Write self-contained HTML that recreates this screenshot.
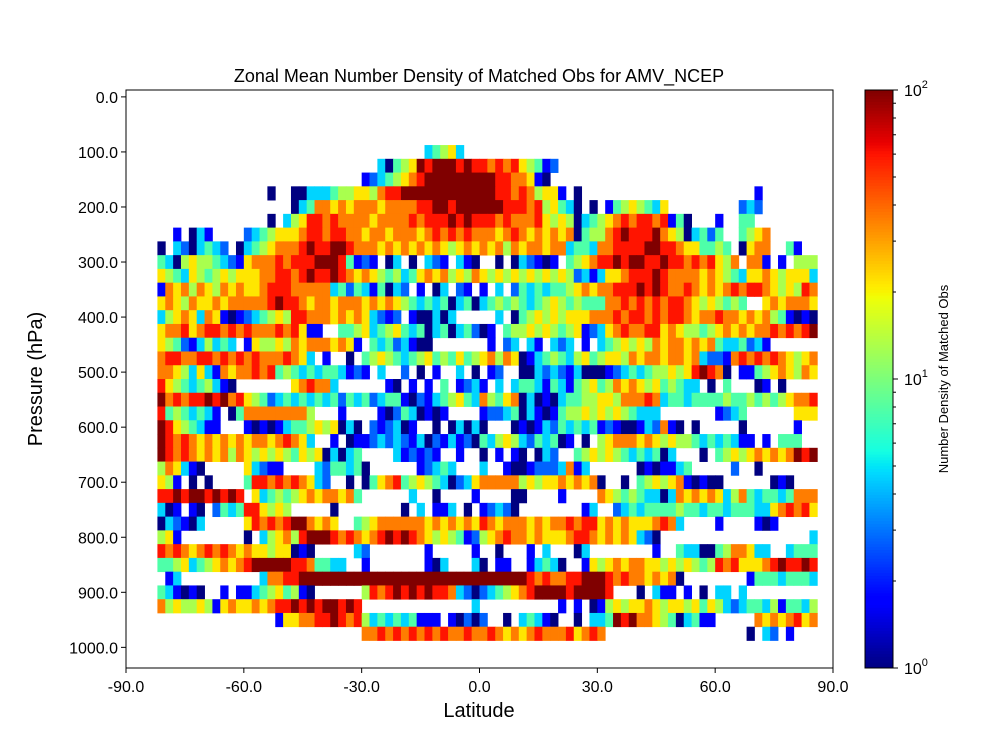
<!DOCTYPE html>
<html><head><meta charset="utf-8"><style>
html,body{margin:0;padding:0;background:#fff;}
svg{display:block;font-family:"Liberation Sans","DejaVu Sans",sans-serif;}
</style></head><body>
<svg id="chart" width="1000" height="750" viewBox="0 0 1000 750" xmlns="http://www.w3.org/2000/svg">
<rect x="0" y="0" width="1000" height="750" fill="#fff"/>
<text x="479" y="82" font-size="18" text-anchor="middle">Zonal Mean Number Density of Matched Obs for AMV_NCEP</text>
<g id="cells"></g>
<rect x="126" y="90" width="707" height="578" fill="none" stroke="#000" stroke-width="1"/>
<g id="xaxis"></g>
<g id="yaxis"></g>
<text x="479" y="717" font-size="20" text-anchor="middle">Latitude</text>
<text x="42" y="379" font-size="20" text-anchor="middle" transform="rotate(-90 42 379)">Pressure (hPa)</text>
<g id="cbar"></g>
<text x="948" y="379" font-size="13" text-anchor="middle" transform="rotate(-90 948 379)">Number Density of Matched Obs</text>
</svg>
<script>
// ---- data ----
const latBinStart = -90;      // first latitude bin edge
const latBinWidth = 2;        // degrees per bin
const pressureLevels = [100,125,150,175,200,225,250,275,300,325,350,375,400,425,450,475,500,525,550,575,600,625,650,675,700,725,750,775,800,825,850,875,900,925,950,975];
// density level codes per latitude bin (0..9 => 10^(code*2/9) obs, '.' = no data)
const densityCodes = [
"..... ..... ..... ..... ..... ..... ..... ...34 563.. ..... ..... ..... ..... ..... ..... ..... ..... .....",
"..... ..... ..... ..... ..... ..... ..304 56989 99898 87878 65412 ..... ..... ..... ..... ..... ..... .....",
"..... ..... ..... ..... ..... ..... 12345 67899 99999 99887 7610. ..... ..... ..... ..... ..... ..... .....",
"..... ..... ..... ...0. .0033 34556 65788 99999 99999 99887 87566 1.0.. ..... ..... ..... ..... 1.... .....",
"..... ..... ..... ..... .0347 76767 77677 77889 98999 99988 87856 430.0 .1456 5436. ..... ...23 2.... .....",
"..... ..... ..... ...0. 35688 78777 76777 78788 89898 88787 77865 65034 56787 88781 40... 1..44 ..... .....",
"..... .1.03 1.... 23456 66788 78877 67767 77678 78787 77678 76767 67045 57898 88976 50342 4..45 67... .....",
"....0 .3203 432.0 34567 77898 89987 77676 76767 65676 76757 67767 73443 77888 89988 76644 54.06 77..4 1....",
"....4 30565 54321 67778 78889 99841 21.03 .0.32 1.310 ..0.0 32101 .4567 88989 98898 87878 657.7 71.1. 555..",
"....6 54365 45656 66778 87898 89876 76545 34676 75657 65656 56565 65231 36678 88987 77767 65436 67656 663..",
"....1 76757 65767 66788 87777 73424 31403 2.1.0 3.21. 1.3.2 43434 45676 77888 98987 78767 67878 87656 587..",
"....6 76576 67677 77789 88767 76777 67676 54343 40340 34545 43456 54544 47787 87878 87656 5454. .6767 776..",
"....3 56763 76101 23456 58877 76767 63212 .1003 03... ..3.0 45656 56667 77878 87878 87677 87767 67541 010..",
"....6 77867 88787 87778 78611 ..445 63456 43403 40342 01.45 56565 45612 36787 78867 65545 67676 77878 789..",
"....6 54213 5343. 16556 57677 76761 .4342 3100. ..... .1.23 .31.3 23.1. 34565 65767 76767 43342 31... .....",
"....7 88778 87878 78777 8763. 1..0. 45654 34564 54645 67576 01345 43564 56657 67767 76732 21787 87876 567..",
"....7 76536 31767 78784 54343 44312 1.3.. 2.0.1 ..3.0 .12.. 00323 21300 01234 34556 56898 70.11 45676 576..",
"....8 65434 5310. ..... .6787 73... ...10 .1.1. 4.123 1.3.3 44314 31456 45767 65645 433.0 .4... 01.0. .....",
"....9 78788 98978 65423 43434 34243 42344 10213 45643 75467 03010 34455 66577 78734 43444 45445 45456 778..",
"....8 45434 31.04 77777 7775. ..1.. ..102 43010 1.... 12234 03101 45565 65654 333.. ..... 1234. ..... 666..",
"....9 86543 11... 10101 34456 56030 .2123 01..0 .0303 0...0 10132 43434 12100 13271 0.0.. ...0. ..... 1....",
"....9 87876 76767 67767 8763. .1.01 12323 21302 13120 43565 32434 01.0. 56777 67656 55434 34311 .1.44 4....",
"....9 87876 76757 65656 54656 03034 ....3 12121 ..1.. 0.1.1 0.032 ..456 56543 43403 ...0. 45656 76767 989..",
"....5 76310 ..... 63211 ....3 24434 0.... ..123 43... 3..10 01222 3713. ..... 01011 34... ..2.. 0.... .....",
"....6 51.0. 0.... 48878 78763 2..0. 04678 45654 30236 77777 56566 76767 0..0. 45656 71010 0.... ..010 .....",
"....8 89899 89898 .6345 45676 77674 ..... .3..0 ....1 ....0 0.... 1.... 76545 43303 76767 63574 34434 777..",
"....3 01.10 .2434 88656 5.... .0... ..... 0.3.1 13.0. 12320 ..... ...13 ..234 34444 54434 43444 33678 786..",
"....0 32103 ..... 68787 89976 76..4 56777 77767 67676 87677 76767 78788 67676 66787 3.... 1.... 101.. .....",
"....5 61... ..... 0.356 75899 98787 67898 98765 65412 56787 76766 67887 67676 320.. ..... ..... ..... ..3..",
"....8 78767 87876 76656 6010. ....3 2.... ...1. ....1 ..0.. .1.3. ..03. ..... ..1.. 43300 45776 33..3 444..",
"....4 45634 56767 89999 98874 433.. 1.... ...10 3...3 0.11. .1343 0..16 56767 76656 56545 87866 67898 898..",
"..... 13... ..... ..377 88999 99999 99999 99999 99999 99999 98787 78899 98787 76767 0.... ....1 44434 443..",
"....4 31010 ..1.1 13456 4510. ..... 58789 89898 87320 23456 78999 98999 98... 0.311 .1.0. 33.3. ..... .....",
"....7 56556 51676 67678 89898 99898 ..... ..... ....3 ..... ..... 1.1.0 15656 67656 65646 53234 43514 435..",
"..... ..... ..... ....1 66778 89878 53434 34111 .1020 2..0. 34310 ..0.3 34989 77654 03411 ..... 76767 867..",
"..... ..... ..... ..... ..... ..... 77878 78787 87787 78767 67877 78678 7.... ..... ..... ....0 .32.1 ....."
];
const xTickValues = [-90,-60,-30,0,30,60,90];
const yTickValues = [0,100,200,300,400,500,600,700,800,900,1000];
const cbarMajorTicks = [1,10,100];
const cbarMajorLabels = ["0","1","2"];

// ---- scales ----
const PX0=126, PX1=833, PY0=90, PY1=668;
const LAT_MIN=-90, LAT_MAX=90, P_MIN=-12.5, P_MAX=1037.5;
function xScale(lat){return PX0+(lat-LAT_MIN)/(LAT_MAX-LAT_MIN)*(PX1-PX0);}
function yScale(p){return PY0+(p-P_MIN)/(P_MAX-P_MIN)*(PY1-PY0);}
const CB_X=865, CB_W=28, CB_Y0=90, CB_Y1=668;
function cbScale(v){return CB_Y1-(Math.log10(v)-0)/2*(CB_Y1-CB_Y0);}
function interp(pts,f){for(let i=1;i<pts.length;i++){if(f<=pts[i][0]){const a=pts[i-1],b=pts[i];return a[1]+(b[1]-a[1])*(f-a[0])/(b[0]-a[0]);}}return pts[pts.length-1][1];}
const JR=[[0,0],[0.35,0],[0.66,1],[0.89,1],[1,0.5]];
const JG=[[0,0],[0.125,0],[0.375,1],[0.64,1],[0.91,0],[1,0]];
const JB=[[0,0.5],[0.11,1],[0.34,1],[0.65,0],[1,0]];
function jet(f){f=Math.max(0,Math.min(1,f));const c=[interp(JR,f),interp(JG,f),interp(JB,f)].map(v=>Math.round(v*255));return `rgb(${c[0]},${c[1]},${c[2]})`;}
function colorFor(v){return jet(Math.log10(v)/2);}
const NS="http://www.w3.org/2000/svg";
function mk(tag,attrs,parent){const e=document.createElementNS(NS,tag);for(const k in attrs)e.setAttribute(k,attrs[k]);parent.appendChild(e);return e;}

// ---- cells ----
const cells=document.getElementById('cells');
densityCodes.forEach((rowStr,r)=>{
  const codes=rowStr.replace(/ /g,'');
  const p=pressureLevels[r];
  const y0=yScale(p-12.5), y1=yScale(p+12.5);
  for(let i=0;i<codes.length;i++){
    const ch=codes[i]; if(ch==='.') continue;
    const value=Math.pow(10,parseInt(ch,10)*2/9);
    const lat=latBinStart+i*latBinWidth;
    const x0=xScale(lat), x1=xScale(lat+latBinWidth);
    const rc=mk('rect',{x:x0.toFixed(2),y:y0.toFixed(2),width:(x1-x0+0.4).toFixed(2),height:(y1-y0+0.4).toFixed(2),fill:colorFor(value)},cells);
    
    
  }
});

// ---- axes ----
const xa=document.getElementById('xaxis');
xTickValues.forEach(v=>{
  const x=xScale(v);
  const t=mk('line',{x1:x,y1:PY1,x2:x,y2:PY1+5,stroke:'#000'},xa);
  
  
  const l=mk('text',{x:x,y:PY1+24,'font-size':16,'text-anchor':'middle'},xa);
  l.textContent=v.toFixed(1);
  
  
});
const ya=document.getElementById('yaxis');
yTickValues.forEach(v=>{
  const y=yScale(v);
  const t=mk('line',{x1:PX0-5,y1:y,x2:PX0,y2:y,stroke:'#000'},ya);
  
  
  const l=mk('text',{x:PX0-8,y:y+6,'font-size':16,'text-anchor':'end'},ya);
  l.textContent=v.toFixed(1);
  
  
});

// ---- colorbar ----
const cb=document.getElementById('cbar');
const N=200;
for(let k=0;k<N;k++){
  const f0=k/N, f1=(k+1)/N;
  const ya0=CB_Y1-f1*(CB_Y1-CB_Y0), ya1=CB_Y1-f0*(CB_Y1-CB_Y0);
  const s=mk('rect',{x:CB_X,y:ya0.toFixed(2),width:CB_W,height:(ya1-ya0+0.5).toFixed(2),fill:jet((f0+f1)/2)},cb);
  
  
}
const cbf=mk('rect',{x:CB_X,y:CB_Y0,width:CB_W,height:CB_Y1-CB_Y0,fill:'none',stroke:'#000'},cb);


cbarMajorTicks.forEach((v,i)=>{
  const y=cbScale(v);
  const t=mk('line',{x1:CB_X+CB_W,y1:y,x2:CB_X+CB_W+5,y2:y,stroke:'#000'},cb);
  
  
  const l=mk('text',{x:CB_X+CB_W+11,y:y+6,'font-size':16},cb);
  
  
  l.appendChild(document.createTextNode('10'));
  const sp=mk('tspan',{dy:-8,'font-size':11},l);
  sp.textContent=cbarMajorLabels[i];
});
[1,10].forEach(d=>{for(let m=2;m<=9;m++){
  const y=cbScale(d*m);
  const t=mk('line',{x1:CB_X+CB_W,y1:y,x2:CB_X+CB_W+3,y2:y,stroke:'#000'},cb);
  
  
}});
</script>
</body></html>
